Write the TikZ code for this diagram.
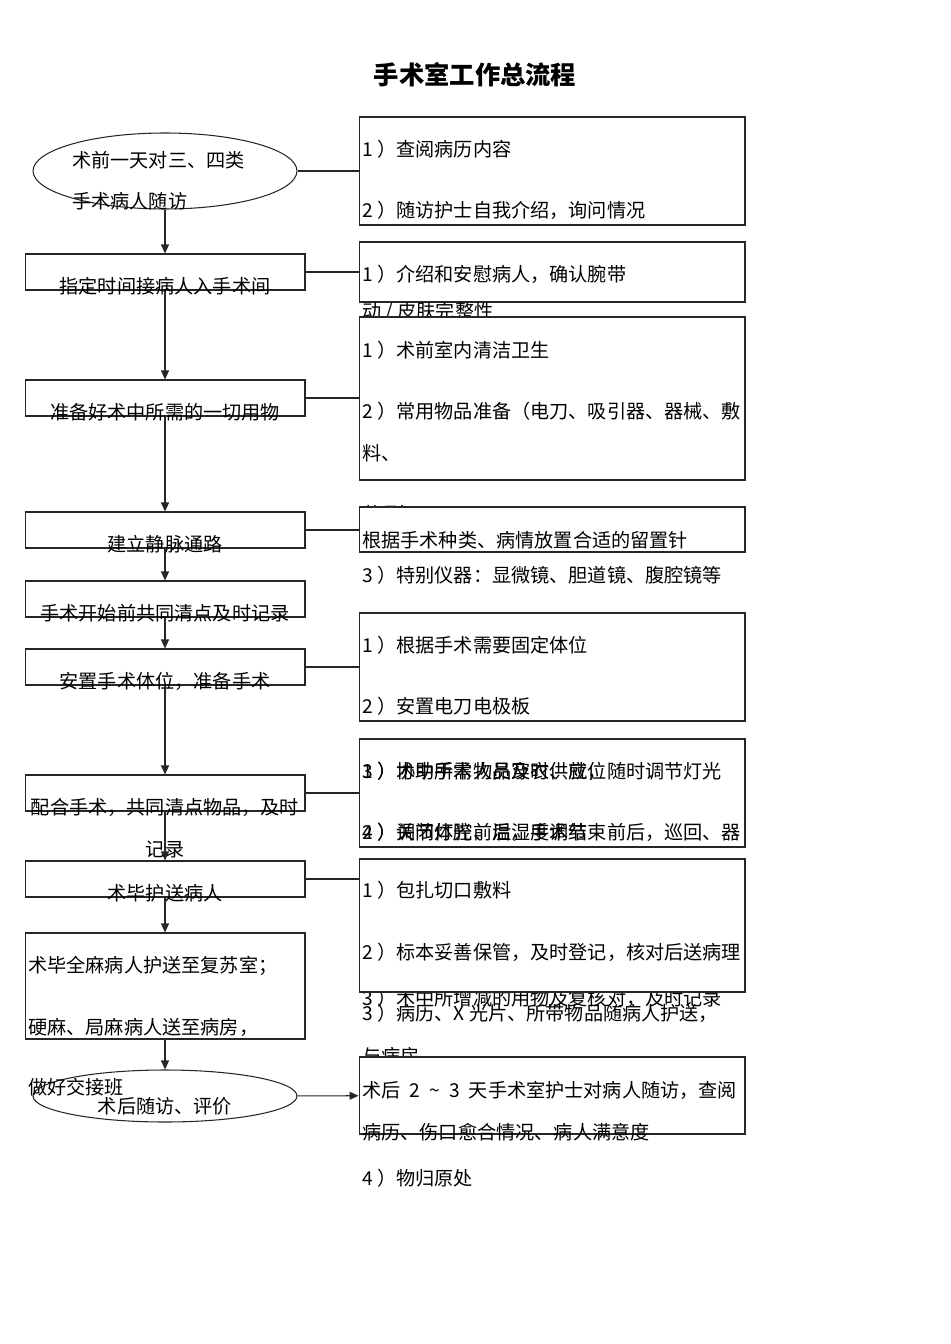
\documentclass[tikz,border=0pt]{standalone}
\usepackage{fontspec}
\setmainfont{Noto Sans CJK SC}
\usetikzlibrary{positioning, shapes.geometric, arrows.meta}

\tikzset{
  flowline/.style={line width=0.6pt, draw=black!85},
  flowarrow/.style={flowline, -{Triangle[length=1.8mm,width=1.6mm]}},
  leftbox/.style={flowline, rectangle, fill=white, minimum width=5.6cm, minimum height=0.72cm, inner sep=0pt},
  notebox/.style={flowline, rectangle, fill=white, minimum width=7.72cm, inner sep=0pt},
  oval/.style={flowline, ellipse, minimum width=5.28cm, inner sep=0pt},
  txt/.style={inner sep=0pt, font=\fontsize{10.9pt}{13pt}\selectfont},
  ltxt/.style={txt, anchor=west},
}

\begin{document}
\begin{tikzpicture}[x=0.02cm, y=-0.02cm]
\useasboundingbox (0,0) rectangle (950,1344);

\node[inner sep=0pt, font=\fontsize{14.4pt}{16pt}\selectfont\bfseries] (title) at (475,75) {手术室工作总流程};

% left column
\node[oval, minimum height=1.52cm] (start) at (165,171) {};
\node[ltxt] (start-t1) at (72,160) {术前一天对三、四类};
\node[ltxt] (start-t2) at (72,201) {手术病人随访};

\foreach \nm/\yc/\txt in {a/272/指定时间接病人入手术间, b/398/准备好术中所需的一切用物,
    c/530/建立静脉通路, d/599/手术开始前共同清点及时记录, e/667/安置手术体位，准备手术,
    f/793/配合手术，共同清点物品，及时, g/879/术毕护送病人} {
  \node[leftbox] (\nm) at (165,\yc) {};
  \node[txt] (\nm-t) at (165,\yc+14) {\txt};
}
\node[txt] (f-t2) at (165,849) {记录};

\node[leftbox, minimum height=2.12cm] (h) at (165,986) {};
\node[ltxt] (h-t1) at (28,966) {术毕全麻病人护送至复苏室；};
\node[ltxt] (h-t2) at (28,1027) {硬麻、局麻病人送至病房，};

\node[oval, minimum height=1.04cm] (end) at (165,1096) {};
\node[ltxt] (h-t3) at (28,1087) {做好交接班};
\node[txt] (end-t) at (165,1106) {术后随访、评价};

\foreach \u/\v in {start/a, a/b, b/c, c/d, d/e, e/f, f/g, g/h, h/end}
  \draw[flowarrow] (\u) -- (\v);

% right column, later boxes hide the run-over lines
\node[notebox, minimum height=2.16cm] (r1) at (552,171) {};
\node[ltxt] (r1-t1) at (362,149) {1 ）查阅病历内容};
\node[ltxt] (r1-t2) at (362,210) {2 ）随访护士自我介绍，询问情况};

\node[notebox, minimum height=1.2cm] (r2) at (552,272) {};
\node[ltxt] (r2-t1) at (362,274) {1 ）介绍和安慰病人，确认腕带};
\node[ltxt] (r2-t2) at (362,312) {动 / 皮肤完整性};

\node[notebox, minimum height=3.26cm] (r3) at (552,398.5) {};
\node[ltxt] (r3-t1) at (362,350) {1 ）术前室内清洁卫生};
\node[ltxt] (r3-t2) at (362,411) {2 ）常用物品准备（电刀、吸引器、器械、敷};
\node[ltxt] (r3-t3) at (362,453) {料、};
\node[ltxt] (r3-t4) at (362,514) {药品）};

\node[notebox, minimum height=0.9cm] (r4) at (552,529.5) {};
\node[ltxt] (r4-t1) at (362,540) {根据手术种类、病情放置合适的留置针};
\node[ltxt] (r3-t5) at (362,575) {3 ）特别仪器：显微镜、胆道镜、腹腔镜等};

\node[notebox, minimum height=2.16cm] (r5) at (552,667) {};
\node[ltxt] (r5-t1) at (362,645) {1 ）根据手术需要固定体位};
\node[ltxt] (r5-t2) at (362,706) {2 ）安置电刀电极板};

\node[notebox, minimum height=2.16cm] (r6) at (552,793) {};
\node[ltxt] (r6-t1) at (362,771) {1 ）协助手术人员穿衣、就位};
\node[ltxt] (r6-t2) at (362,771) {3 ）术中所需物品及时供应，随时调节灯光};
\node[ltxt] (r6-t3) at (362,832) {2 ）关闭体腔前后，手术结束前后，巡回、器};
\node[ltxt] (r6-t4) at (362,832) {4 ）调节灯光、温湿度调节};
\node[ltxt] (r6-t5) at (362,998) {3 ）术中所增减的用物及复核对，及时记录};

\node[notebox, minimum height=2.66cm] (r7) at (552,925.5) {};
\node[ltxt] (r7-t1) at (362,890) {1 ）包扎切口敷料};
\node[ltxt] (r7-t2) at (362,952) {2 ）标本妥善保管，及时登记，核对后送病理};
\node[ltxt] (r7-t3) at (362,1013) {3 ）病历、X 光片、所带物品随病人护送，};
\node[ltxt] (r7-t4) at (362,1056) {与病房};

\node[notebox, minimum height=1.54cm] (r8) at (552,1095.5) {};
\node[ltxt] (r8-t1) at (362,1090) {术后\hspace{0.45em}2\hspace{0.5em}\string~\hspace{0.5em}3\hspace{0.45em}天手术室护士对病人随访，查阅};
\node[ltxt] (r8-t2) at (362,1132) {病历、伤口愈合情况、病人满意度};
\node[ltxt] (r7-t5) at (362,1178) {4 ）物归原处};

% links to the notes
\foreach \u/\v in {start/r1, a/r2, b/r3, c/r4, e/r5, f/r6, g/r7}
  \draw[flowline] (\u.east) -- (\u.east -| \v.west);
\draw[flowarrow] (end) -- (r8);

\end{tikzpicture}
\end{document}
